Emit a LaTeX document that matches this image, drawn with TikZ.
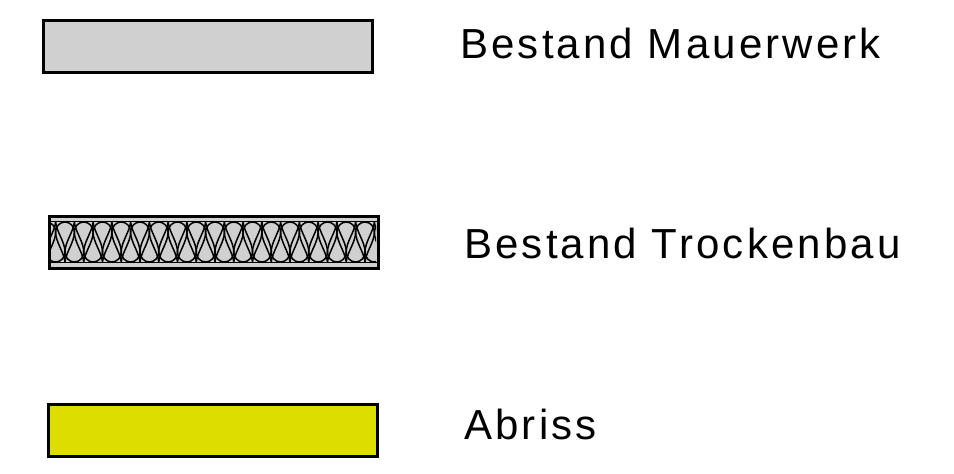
\documentclass[tikz,border=0pt]{standalone}
\usepackage{fontspec}
\setmainfont{Liberation Sans}[LetterSpace=7.5]
\definecolor{wallgray}{HTML}{D0D0D0}
\definecolor{abrissyellow}{HTML}{DDDD00}
\tikzset{
  legendbox/.style={draw=black, line width=3pt},
  legendtext/.style={anchor=base west, inner sep=0pt, font=\fontsize{42}{50}\selectfont},
  dropline/.style={line width=1.5pt, line join=round},
}
\begin{document}
\begin{tikzpicture}[x=1pt,y=-1pt]
\useasboundingbox (0,0) rectangle (954,474);
% Bestand Mauerwerk
\draw[legendbox, fill=wallgray] (43,20) rectangle (372,72);
\node[legendtext] (t1) at (460,58) {Bestand Mauerwerk};
% Bestand Trockenbau
\fill[wallgray] (49,216) rectangle (378,268);
\begin{scope}
  \clip (51,222) rectangle (376,262);
  \foreach \i in {0,...,18} {
    \pgfmathsetmacro{\c}{65+18.75*(\i-1)}
    \pgfmathsetmacro{\d}{\c+9.375}
    \draw[dropline] (\c,262) .. controls (\c-1,252) and (\c-9.4,242) .. (\c-9.4,232)
      .. controls (\c-9.4,226.5) and (\c-5.2,222) .. (\c,222)
      .. controls (\c+5.2,222) and (\c+9.4,226.5) .. (\c+9.4,232)
      .. controls (\c+9.4,242) and (\c+1,252) .. (\c,262);
    \draw[dropline] (\d,222) .. controls (\d-1,232) and (\d-9.4,242) .. (\d-9.4,252)
      .. controls (\d-9.4,257.5) and (\d-5.2,262) .. (\d,262)
      .. controls (\d+5.2,262) and (\d+9.4,257.5) .. (\d+9.4,252)
      .. controls (\d+9.4,242) and (\d+1,232) .. (\d,222);
  }
\end{scope}
\draw[line width=1pt] (49,221.5) -- (378,221.5);
\draw[line width=1pt] (49,262.5) -- (378,262.5);
\draw[legendbox] (49,216) rectangle (378,268);
\node[legendtext] (t2) at (464,258) {Bestand Trockenbau};
% Abriss
\draw[legendbox, fill=abrissyellow] (48,404) rectangle (377,456);
\node[legendtext] (t3) at (464,439) {Abriss};
\end{tikzpicture}
\end{document}
